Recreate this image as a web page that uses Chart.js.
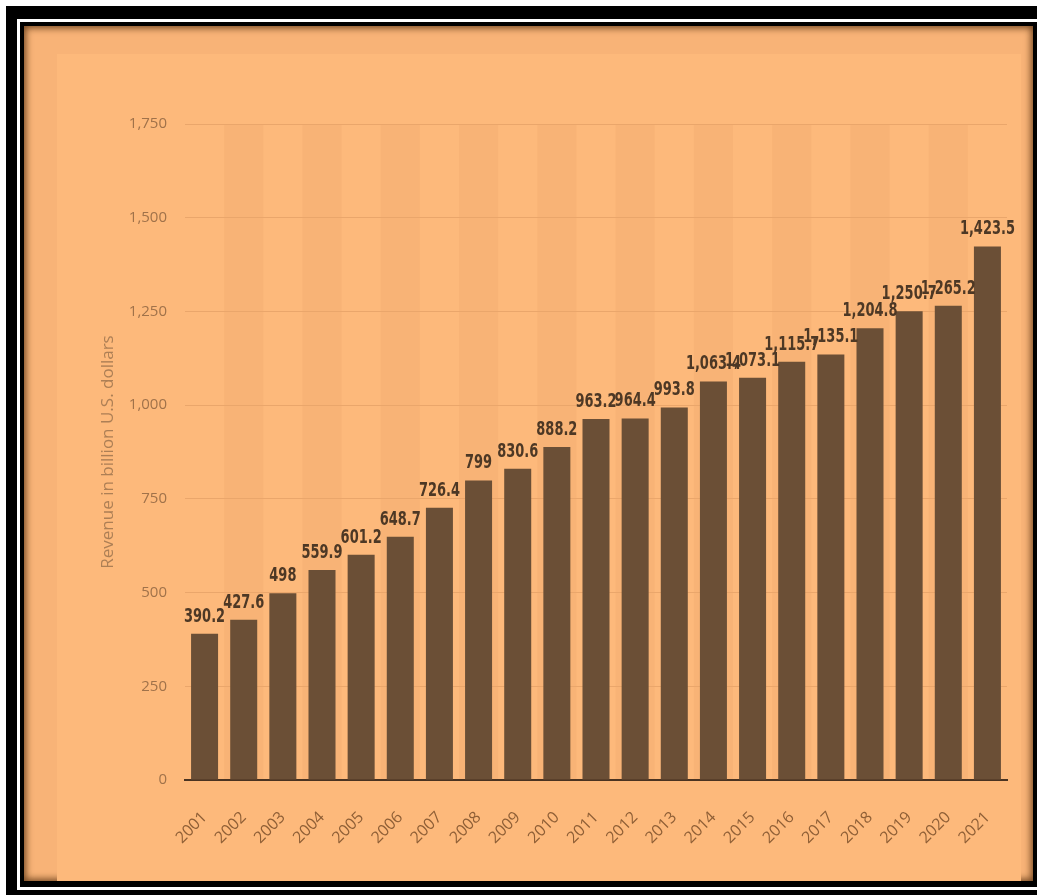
<!DOCTYPE html>
<html>

<head>
  <title>Revenue in billion U.S. dollars</title>
  <script src="https://cdn.jsdelivr.net/npm/chart.js@4.4.1/dist/chart.umd.min.js"></script>

  <style>
    body {
      margin: 0;
      background-color: white;
      width: 1037px;
      height: 895px;
      overflow: hidden;
      position: relative;
    }

    .frame {
      position: absolute;
      left: 6px;
      top: 6px;
      right: 0;
      bottom: 0;
      background: #000;
    }

    .rule {
      position: absolute;
      left: 17px;
      top: 19px;
      width: 1030px;
      height: 865px;
      border: 3px solid #fff;
      border-right: none;
      background: #000;
    }

    .panel {
      position: absolute;
      left: 24px;
      top: 26px;
      width: 1009px;
      height: 855px;
      background: #f8b377;
      box-shadow: inset 0 0 7px 2px rgba(70, 35, 5, 0.75);
      overflow: hidden;
    }

    .panel .inner {
      position: absolute;
      left: 33px;
      top: 28px;
      right: 12px;
      bottom: 0;
      background: #fdb97b;
    }

    .chart-container {
      position: absolute;
      left: 0;
      top: 0;
      width: 1037px;
      height: 895px;
    }
  </style>
</head>

<body>
  <div class="frame"></div>
  <div class="rule"></div>
  <div class="panel"><div class="inner"></div></div>

  <div class="chart-container">
    <canvas id="revenueChart"></canvas>
  </div>

  <script>
    const years = ['2001', '2002', '2003', '2004', '2005', '2006', '2007', '2008', '2009', '2010', '2011',
      '2012', '2013', '2014', '2015', '2016', '2017', '2018', '2019', '2020', '2021'];
    const revenue = [390.2, 427.6, 498, 559.9, 601.2, 648.7, 726.4, 799, 830.6, 888.2, 963.2,
      964.4, 993.8, 1063.4, 1073.1, 1115.7, 1135.1, 1204.8, 1250.7, 1265.2, 1423.5];
    const yTicks = [0, 250, 500, 750, 1000, 1250, 1500, 1750];
    const yTitle = 'Revenue in billion U.S. dollars';

    function fmt(v) {
      return v.toLocaleString('en-US', { maximumFractionDigits: 1 });
    }

    // shaded band behind every second year
    const columnBands = {
      id: 'columnBands',
      beforeDraw(chart) {
        const area = chart.chartArea;
        const x = chart.scales.x;
        const step = x.getPixelForValue(1) - x.getPixelForValue(0);
        const ctx = chart.ctx;
        ctx.save();
        ctx.fillStyle = 'rgba(190, 110, 50, 0.07)';
        for (let i = 1; i < years.length; i += 2) {
          const cx = x.getPixelForValue(i);
          ctx.fillRect(cx - step / 2, area.top, step, area.bottom - area.top);
        }
        ctx.restore();
      }
    };

    // value above each bar, squeezed narrow
    const squeeze = 0.76;
    const barLabels = {
      id: 'barLabels',
      afterDatasetsDraw(chart) {
        const ctx = chart.ctx;
        const meta = chart.getDatasetMeta(0);
        ctx.save();
        ctx.font = 'bold 19px "DejaVu Sans Condensed", "DejaVu Sans", sans-serif';
        ctx.fillStyle = '#4d3825';
        ctx.textAlign = 'center';
        ctx.textBaseline = 'alphabetic';
        meta.data.forEach((bar, i) => {
          ctx.save();
          ctx.translate(bar.x, bar.y - 12);
          ctx.scale(squeeze, 1);
          ctx.fillText(fmt(revenue[i]), 0, 0);
          ctx.restore();
        });
        ctx.restore();
      }
    };

    const ctx = document.getElementById('revenueChart').getContext('2d');
    const chart = new Chart(ctx, {
      type: 'bar',
      data: {
        labels: years,
        datasets: [{
          data: revenue,
          backgroundColor: '#6b4f36',
          borderWidth: 0,
          categoryPercentage: 1,
          barPercentage: 0.69
        }]
      },
      options: {
        responsive: true,
        maintainAspectRatio: false,
        animation: false,
        layout: {
          padding: { left: 95, top: 124, right: 30, bottom: 0 }
        },
        plugins: {
          legend: { display: false },
          tooltip: { enabled: false }
        },
        scales: {
          x: {
            grid: { display: false },
            border: { display: true, color: '#4a3321', width: 2 },
            ticks: {
              color: '#8f5f36',
              font: { family: '"Open Sans", sans-serif', size: 16 },
              minRotation: 45,
              maxRotation: 45,
              padding: 20
            },
            afterFit(scale) {
              scale.height = 115;
            }
          },
          y: {
            min: 0,
            max: 1750,
            afterBuildTicks(scale) {
              scale.ticks = yTicks.map(v => ({ value: v }));
            },
            grid: { color: '#eaa66b', lineWidth: 1, drawTicks: false },
            border: { display: false },
            ticks: {
              color: '#a0724a',
              font: { family: '"Open Sans", sans-serif', size: 15 },
              padding: 18,
              callback: v => fmt(v)
            },
            title: {
              display: true,
              text: yTitle,
              color: '#ad7f55',
              font: { family: '"Open Sans", sans-serif', size: 17 },
              padding: { top: 3, bottom: 0 }
            },
            afterFit(scale) {
              scale.width = 90;
            }
          }
        }
      },
      plugins: [columnBands, barLabels]
    });
  </script>
</body>

</html>
